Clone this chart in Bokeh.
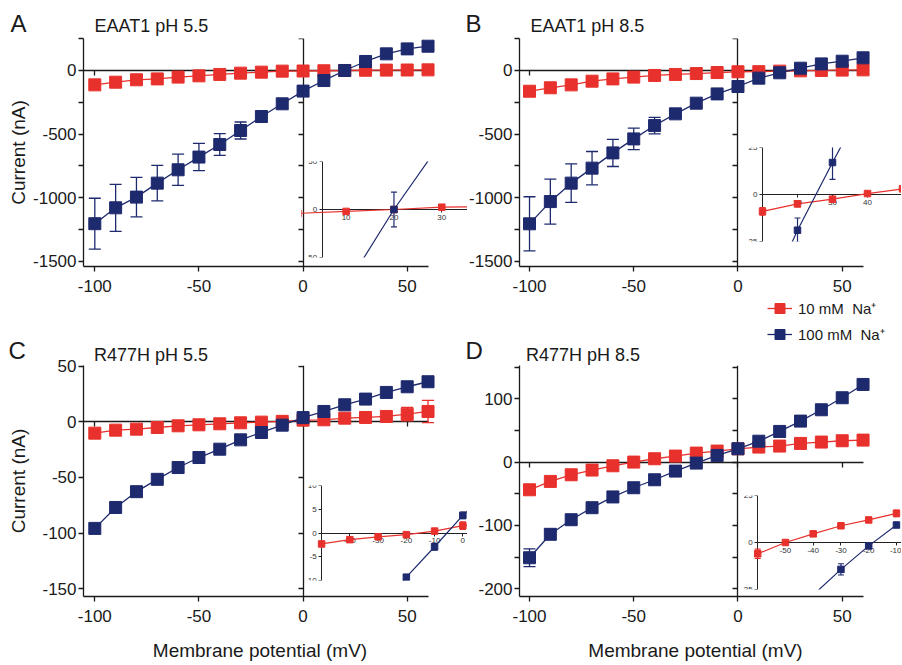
from bokeh.plotting import figure
from bokeh.models import (Range1d, LinearAxis, FixedTicker, Label, Legend, LegendItem,
                          Whisker, TeeHead, ColumnDataSource, GridBox)
from bokeh.embed import file_html
from bokeh.resources import INLINE

FONT = "Liberation Sans"
RED = "#E8312C"
BLUE = "#1E2A6E"
INK = "#1a1a1a"
GREY = "#333333"
NAN = float("nan")

# ---------------- data ----------------
V = [-100, -90, -80, -70, -60, -50, -40, -30, -20, -10, 0, 10, 20, 30, 40, 50, 60]
XTICKS = [-100, -50, 0, 50]
XTICK_LABELS = ["-100", "-50", "0", "50"]

# Panel A: EAAT1 pH 5.5
A_red = [-113, -92, -73, -66, -52, -42, -31, -21, -13, -5, -4, -2, 0, 2, 3, 4, 5]
A_red_err = [0] * 17
A_blue = [-1205, -1080, -996, -886, -781, -681, -582, -472, -362, -262, -162, -79, 0, 71, 131, 170, 191]
A_blue_err = [200, 185, 155, 140, 123, 107, 85, 67, 0, 0, 0, 0, 0, 0, 0, 0, 0]
A_yticks = [-1500, -1000, -500, 0]
A_yminor = [-1250, -750, -250, 250]

# Panel B: EAAT1 pH 8.5
B_red = [-163, -136, -113, -84, -66, -52, -39, -31, -24, -16, -10, -9, -5, -2.5, 0.5, 3, 5]
B_red_err = [0] * 17
B_blue = [-1206, -1031, -886, -768, -648, -538, -433, -341, -257, -184, -126, -60, -18, 18, 52, 73, 100]
B_blue_err = [213, 177, 152, 131, 107, 84, 65, 0, 0, 0, 0, 0, 0, 0, 0, 0, 0]
B_yticks = [-1500, -1000, -500, 0]
B_yminor = [-1250, -750, -250, 250]

# Panel C: R477H pH 5.5
C_red = [-10.2, -7.5, -6.6, -5.1, -3.6, -2.7, -1.8, -0.9, -0.3, 0.4, 1.5, 1.8, 3.3, 3.9, 4.8, 6.9, 9.3]
C_red_err = [0] * 15 + [6, 10]
C_blue = [-95.8, -77, -62.8, -51.7, -41.1, -32.1, -24.6, -16.2, -9.6, -3, 3.8, 9.3, 15.3, 20.4, 26.4, 31.5, 36]
C_blue_err = [0] * 17
C_yticks = [-150, -100, -50, 0, 50]
C_yminor = []

# Panel D: R477H pH 8.5
D_red = [-43.7, -30.5, -20, -12.6, -5.8, 0, 5.3, 9.5, 14.2, 17.4, 21, 23.7, 25.3, 29.5, 31.6, 33.7, 34.7]
D_red_err = [0] * 17
D_blue = [-151, -114, -91, -72, -55, -40.5, -27.9, -14.2, -1.6, 10.5, 21, 33, 48.4, 64.7, 82.6, 101.6, 122.6]
D_blue_err = [14, 8] + [0] * 15
D_yticks = [-200, -100, 0, 100]
D_yminor = [-150, -50, 50, 150]

# Insets (zoomed views around the reversal potential)
IA_red_x = [0, 10, 20, 30, 40]
IA_red = [-4, -2, 0, 2.4, 3]
IA_red_err = [0, 0, 0, 0, 0]
IA_blue_x = [10, 20, 30]
IA_blue = [-80, 0, 71]
IA_blue_err = [0, 18, 0]
IA_xticks = [10, 20, 30]
IA_yticks = [-50, 0, 50]

IB_red_x = [10, 20, 30, 40, 50]
IB_red = [-9, -5, -2.5, 0.5, 3]
IB_red_err = [2, 1.5, 0, 0, 0]
IB_blue_x = [10, 20, 30, 40]
IB_blue = [-60, -19, 17, 52]
IB_blue_err = [0, 6.5, 9, 0]
IB_xticks = [20, 30, 40, 50]
IB_yticks = [-25, 0, 25]

IC_red_x = [-50, -40, -30, -20, -10, 0, 10]
IC_red = [-2.3, -1.4, -0.8, -0.35, 0.4, 1.55, 1.8]
IC_red_err = [0, 0, 0, 0, 0, 0.8, 0]
IC_blue_x = [-30, -20, -10, 0, 10]
IC_blue = [-16.2, -9.3, -2.9, 3.7, 9.3]
IC_blue_err = [0, 0.5, 0.7, 0.7, 0]
IC_xticks = [-40, -30, -20, -10, 0]
IC_yticks = [-10, -5, 0, 5, 10]

ID_red_x = [-60, -50, -40, -30, -20, -10]
ID_red = [-6, 0, 4.6, 8.9, 12, 15.5]
ID_red_err = [2.5, 0, 0, 0, 0, 1.8]
ID_blue_x = [-40, -30, -20, -10]
ID_blue = [-27.9, -14.3, -1.8, 9.3]
ID_blue_err = [0, 3, 0.8, 0]
ID_xticks = [-50, -40, -30, -20, -10]
ID_yticks = [-25, 0, 25]

LETTERS = ["A", "B", "C", "D"]
TITLES = ["EAAT1 pH 5.5", "EAAT1 pH 8.5", "R477H pH 5.5", "R477H pH 8.5"]
LEGEND_LABELS = ["10 mM  Na\u207a", "100 mM  Na\u207a"]
X_AXIS_END = 60.4


def base_fig(canvas, frame, xr, yr, transparent=False):
    cx0, cy0, cx1, cy1 = canvas
    fx0, fy0, fx1, fy1 = frame
    p = figure(width=cx1 - cx0, height=cy1 - cy0,
               x_range=Range1d(*xr), y_range=Range1d(*yr),
               x_axis_type=None, y_axis_type=None,
               toolbar_location=None, output_backend="svg",
               min_border_left=fx0 - cx0, min_border_right=cx1 - fx1,
               min_border_top=fy0 - cy0, min_border_bottom=cy1 - fy1)
    p.outline_line_color = None
    if transparent:
        p.background_fill_alpha = 0
        p.border_fill_alpha = 0
    return p


def style_axis(ax, size, color, label_color, tick_out, standoff, lw):
    ax.axis_line_color = color
    ax.axis_line_width = lw
    ax.major_tick_line_color = color
    ax.major_tick_line_width = lw
    ax.minor_tick_line_color = color
    ax.minor_tick_line_width = lw
    ax.major_tick_in = 0
    ax.major_tick_out = tick_out
    ax.minor_tick_in = 0
    ax.minor_tick_out = tick_out
    ax.major_label_standoff = standoff
    ax.major_label_text_font = FONT
    ax.major_label_text_font_size = f"{size}px"
    ax.major_label_text_color = label_color


def add_err(p, xs, ys, errs, color, size, lw):
    idx = [i for i, e in enumerate(errs) if e > 0]
    if not idx:
        return
    src = ColumnDataSource(dict(x=[xs[i] for i in idx],
                                upper=[ys[i] + errs[i] for i in idx],
                                lower=[ys[i] - errs[i] for i in idx]))
    w = Whisker(source=src, base="x", upper="upper", lower="lower", dimension="height",
                line_color=color, line_width=lw, level="underlay",
                upper_head=TeeHead(size=size, line_color=color, line_width=lw),
                lower_head=TeeHead(size=size, line_color=color, line_width=lw))
    p.add_layout(w)


def add_series(p, xs, ys, errs, color, msize, lw, cap):
    add_err(p, xs, ys, errs, color, cap, lw)
    r_line = p.line(xs, ys, line_color=color, line_width=lw)
    r_pts = p.scatter(xs, ys, marker="square", size=msize, fill_color=color, line_color=color)
    return r_line, r_pts


def main_panel(canvas, frame, xr, yr, yticks, yminor, red, red_err, blue, blue_err,
               ylabel=None, ylabel_standoff=1, xlabel=None):
    p = base_fig(canvas, frame, xr, yr)
    yl = LinearAxis(ticker=FixedTicker(ticks=yticks, minor_ticks=yminor),
                    major_label_overrides={t: str(t) for t in yticks})
    style_axis(yl, 17, INK, INK, 5, 2, 1.3)
    if ylabel:
        yl.axis_label = ylabel
        yl.axis_label_text_font = FONT
        yl.axis_label_text_font_size = "19px"
        yl.axis_label_text_font_style = "normal"
        yl.axis_label_text_color = INK
        yl.axis_label_standoff = ylabel_standoff
    p.add_layout(yl, "left")

    xb = LinearAxis(ticker=FixedTicker(ticks=XTICKS),
                    major_label_overrides=dict(zip(XTICKS, XTICK_LABELS)),
                    bounds=(xr[0], X_AXIS_END))
    style_axis(xb, 17, INK, INK, 5, 8, 1.3)
    if xlabel:
        xb.axis_label = xlabel
        xb.axis_label_text_font = FONT
        xb.axis_label_text_font_size = "19px"
        xb.axis_label_text_font_style = "normal"
        xb.axis_label_text_color = INK
        xb.axis_label_standoff = 15
    p.add_layout(xb, "below")

    # axes crossing at zero
    yz = LinearAxis(fixed_location=0, ticker=FixedTicker(ticks=yticks, minor_ticks=yminor),
                    level="image")
    style_axis(yz, 17, INK, None, 5, 2, 1.3)
    p.add_layout(yz, "left")
    xz = LinearAxis(fixed_location=0, ticker=FixedTicker(ticks=XTICKS),
                    bounds=(xr[0], X_AXIS_END), level="image")
    style_axis(xz, 17, INK, None, 5, 2, 1.3)
    p.add_layout(xz, "below")

    add_series(p, V, red, red_err, RED, 12, 1.3, 12)
    add_series(p, V, blue, blue_err, BLUE, 12, 1.3, 12)
    return p


def inset_panel(canvas, frame, xr, yr, y_at, xticks, yticks,
                rx, ry, rerr, bx, by, berr):
    p = base_fig(canvas, frame, xr, yr, transparent=True)
    ya = LinearAxis(fixed_location=y_at, ticker=FixedTicker(ticks=yticks),
                    major_label_overrides={t: str(t) for t in yticks}, level="image")
    style_axis(ya, 8, "#222222", GREY, 3, 2, 1)
    p.add_layout(ya, "left")
    xa = LinearAxis(fixed_location=0, ticker=FixedTicker(ticks=xticks),
                    major_label_overrides={t: str(t) for t in xticks},
                    bounds=(y_at, xr[1]), level="image")
    style_axis(xa, 8, "#222222", GREY, 3, 2, 1)
    p.add_layout(xa, "below")
    add_series(p, rx, ry, rerr, RED, 6.5, 1.2, 6)
    add_series(p, bx, by, berr, BLUE, 6.5, 1.2, 6)
    return p


# figures that share a grid edge get the same border on that edge
pA = main_panel((0, 0, 450, 300), (83, 38, 436, 266), (-105.43, 64.07), (-1541.7, 251.7),
                A_yticks, A_yminor, A_red, A_red_err, A_blue, A_blue_err,
                ylabel="Current (nA)", ylabel_standoff=1)
pB = main_panel((450, 0, 902, 300), (519, 38, 871, 266), (-104.8, 64.05), (-1541.7, 251.7),
                B_yticks, B_yminor, B_red, B_red_err, B_blue, B_blue_err)
pC = main_panel((0, 300, 450, 665), (83, 365, 436, 596), (-105.43, 64.07), (-157, 50.6),
                C_yticks, C_yminor, C_red, C_red_err, C_blue, C_blue_err,
                ylabel="Current (nA)", ylabel_standoff=10,
                xlabel="Membrane potential (mV)")
pD = main_panel((450, 300, 902, 665), (519, 365, 871, 596), (-104.8, 64.05), (-212.2, 152.5),
                D_yticks, D_yminor, D_red, D_red_err, D_blue, D_blue_err,
                xlabel="Membrane potential (mV)")

# inset frames reach left past their y axes so the axis labels stay inside the frame
iA = inset_panel((301, 155, 467, 263), (301, 161, 467, 257), (0.674, 35.37), (-50, 50), 5,
                 IA_xticks, IA_yticks, IA_red_x, IA_red, IA_red_err, IA_blue_x, IA_blue, IA_blue_err)
iB = inset_panel((740, 141, 901, 247), (740, 147, 901, 241), (3.71, 49.71), (-25, 25), 10,
                 IB_xticks, IB_yticks, IB_red_x, IB_red, IB_red_err, IB_blue_x, IB_blue, IB_blue_err)
iC = inset_panel((300, 479, 467, 586), (300, 485, 467, 580), (-57.47, 1.65), (-10, 10), -50,
                 IC_xticks, IC_yticks, IC_red_x, IC_red, IC_red_err, IC_blue_x, IC_blue, IC_blue_err)
iD = inset_panel((736, 489, 901, 595), (736, 495, 901, 589), (-67.64, -8.18), (-25, 25), -60,
                 ID_xticks, ID_yticks, ID_red_x, ID_red, ID_red_err, ID_blue_x, ID_blue, ID_blue_err)

# ---- page overlay: panel letters, panel titles and the shared legend ----
OV = (1, 1, 899, 664)
ov = base_fig(OV, OV, (OV[0], OV[2]), (OV[3], OV[1]), transparent=True)
letter_pos = [(10, 22.5), (465, 22.5), (8, 350), (465, 350)]
title_pos = [(94, 25.5), (530, 25.5), (93.5, 354.5), (525.5, 354.5)]
for txt, (lx, ly) in zip(LETTERS, letter_pos):
    ov.add_layout(Label(x=lx, y=ly, text=txt, text_font=FONT, text_font_size="24px",
                        text_baseline="middle", text_align="left", text_color=INK))
for txt, (tx, ty) in zip(TITLES, title_pos):
    ov.add_layout(Label(x=tx, y=ty, text=txt, text_font=FONT, text_font_size="18px",
                        text_baseline="middle", text_align="left", text_color=INK))

# legend keys: renderers without any visible point, styled like the series
lr_line = ov.line(x=[NAN], y=[NAN], line_color=RED, line_width=1.3)
lr_pts = ov.scatter(x=[NAN], y=[NAN], marker="square", fill_color=RED, line_color=RED)
lb_line = ov.line(x=[NAN], y=[NAN], line_color=BLUE, line_width=1.3)
lb_pts = ov.scatter(x=[NAN], y=[NAN], marker="square", fill_color=BLUE, line_color=BLUE)
legend = Legend(items=[LegendItem(label=LEGEND_LABELS[0], renderers=[lr_line, lr_pts]),
                       LegendItem(label=LEGEND_LABELS[1], renderers=[lb_line, lb_pts])],
                location=(767 - OV[0], OV[3] - 299.5 - 47), padding=0, margin=0, spacing=-5,
                glyph_width=25, glyph_height=26, label_height=26, label_standoff=6,
                border_line_color=None, background_fill_alpha=0,
                label_text_font=FONT, label_text_font_size="15px", label_text_color=INK)
ov.add_layout(legend)

# ---- place all figures on a pixel grid (insets and overlay lie on top) ----
items = [
    (pA, (0, 0, 450, 300)), (pB, (450, 0, 902, 300)),
    (pC, (0, 300, 450, 665)), (pD, (450, 300, 902, 665)),
    (iA, (301, 155, 467, 263)), (iB, (740, 141, 901, 247)),
    (iC, (300, 479, 467, 586)), (iD, (736, 489, 901, 595)),
    (ov, OV),
]
xs = sorted({b[0] for _, b in items} | {b[2] for _, b in items})
ys = sorted({b[1] for _, b in items} | {b[3] for _, b in items})
cols = [f"{b - a}px" for a, b in zip(xs, xs[1:])]
rows = [f"{b - a}px" for a, b in zip(ys, ys[1:])]
children = []
for fig, (x0, y0, x1, y1) in items:
    r, c = ys.index(y0), xs.index(x0)
    children.append((fig, r, c, ys.index(y1) - r, xs.index(x1) - c))

grid = GridBox(children=children, rows=rows, cols=cols, spacing=0)

open("out.html", "w").write(file_html(grid, INLINE))
